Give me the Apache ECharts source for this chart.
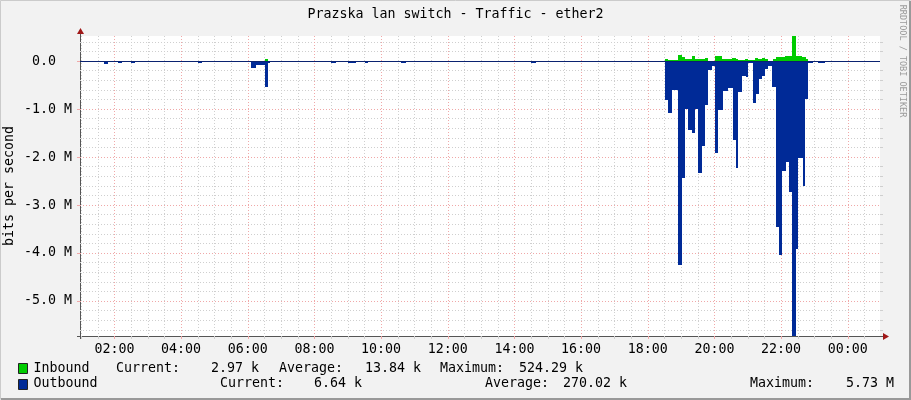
<!DOCTYPE html>
<html><head><meta charset="utf-8">
<script src="https://cdn.jsdelivr.net/npm/echarts@6/dist/echarts.min.js"></script>
<style>html,body{margin:0;padding:0;background:#f2f2f2}#c{width:911px;height:400px}</style>
</head><body><div id="c"></div>
<script>
// ---- chart data ----
const chartTitle = 'Prazska lan switch - Traffic - ether2';
const yAxisTitle = 'bits per second';
const watermark = 'RRDTOOL / TOBI OETIKER';
const xStart = '00:58';
const xEnd = '24:58';
const xLabelTimes = ['02:00','04:00','06:00','08:00','10:00','12:00','14:00','16:00','18:00','20:00','22:00','24:00'];
const yLabelValues = [-5000000,-4000000,-3000000,-2000000,-1000000,0];

// Outbound (bits/s, drawn negative): segment start times and values (last time closes the series)
const outTimes = ['00:58','01:41','01:49','02:07','02:13','02:30','02:37','04:31','04:37',
  '06:06','06:15','06:24','06:31','06:37','06:40','08:30','08:39','09:01','09:14','09:31','09:37',
  '10:36','10:45','14:30','14:39',
  '18:31','18:37','18:43','18:54','19:01','19:07','19:13','19:20','19:25','19:31','19:37','19:43',
  '19:49','19:56','20:01','20:07','20:15','20:21','20:25','20:33','20:39','20:43','20:50','20:56',
  '21:01','21:09','21:15','21:20','21:26','21:31','21:37','21:44','21:50','21:56','22:02','22:08',
  '22:14','22:20','22:26','22:31','22:39','22:43','22:49','22:58','23:07','23:19','24:58'];
const outValues = [0,-60000,0,-35000,0,-35000,0,-35000,0,
  -150000,-70000,-80000,-530000,-35000,0,-35000,0,-35000,0,-35000,0,
  -35000,0,-35000,0,
  -820000,-1080000,-610000,-4260000,-2440000,-990000,-1430000,-1500000,-990000,-2330000,-1760000,-910000,
  -180000,-100000,-1920000,-1010000,-620000,-630000,-570000,-1640000,-2230000,-640000,-300000,-340000,
  -40000,-870000,-690000,-370000,-320000,-160000,-110000,-540000,-3450000,-4040000,-2300000,-2110000,
  -2720000,-5730000,-3910000,-2010000,-2610000,-780000,-35000,-20000,-40000,0,0];

// Inbound (bits/s)
const inTimes = ['00:58','06:31','06:37','18:31','18:37','18:55','19:01','19:07','19:19','19:25','19:43',
  '19:49','20:01','20:13','20:31','20:39','20:43','20:55','21:01','21:13','21:19','21:25','21:31',
  '21:37','21:46','21:50','22:07','22:20','22:26','22:37','22:45','22:49','24:58'];
const inValues = [0,45000,0,50000,30000,135000,90000,50000,100000,50000,70000,
  10000,100000,50000,70000,50000,30000,50000,30000,70000,50000,70000,40000,
  10000,50000,94000,100000,524290,100000,80000,40000,0,0];

const legendNames = ['Inbound','Outbound'];
const legendColors = ['#00cc00','#002a97'];
const statLabels = ['Current:','Average:','Maximum:'];
const inStats = ['2.97 k','13.84 k','524.29 k'];
const outStats = ['6.64 k','270.02 k','5.73 M'];

// ---- helpers ----
function toMin(s){const p=s.split(':');return (+p[0])*60+(+p[1]);}
function segs(ts,vs){const out=[];for(let i=0;i<ts.length-1;i++){ if(vs[i]!==0) out.push([toMin(ts[i]),toMin(ts[i+1]),vs[i]]); }return out;}
const xMin = toMin(xStart), xMax = toMin(xEnd);
const yMin = Math.min(...outValues), yMax = Math.max(...inValues);
const xMajor = xLabelTimes.map(toMin);
const xMinor = []; for(let m=30*Math.ceil(xMin/30); m<=xMax; m+=30){ if(m%120!==0) xMinor.push(m); }
const yMinor = []; for(let k=Math.ceil(yMin/200000); k*200000<=yMax; k++){ if(k%5!==0) yMinor.push(k*200000); }

const FONT = 'DejaVu Sans Mono';
const fmtX = v => { const m=((v%1440)+1440)%1440; const h=Math.floor(m/60); return (h<10?'0':'')+h+':'+(m%60<10?'0':'')+(m%60); };
const fmtY = v => v===0 ? '0.0  ' : (v/1e6).toFixed(1)+' M';

function renderSeg(params, api){
  const a = api.coord([api.value(0), api.value(2)]);
  const b = api.coord([api.value(1), 0]);
  const x0 = Math.round(a[0]), x1 = Math.round(b[0]);
  const y0 = Math.round(Math.min(a[1], b[1])), y1 = Math.round(Math.max(a[1], b[1]));
  return {type:'rect', shape:{x:x0, y:y0, width:Math.max(x1-x0,1), height:Math.max(y1-y0,1)},
          style:{fill:api.visual('color')}};
}
function renderZero(params, api){
  const a = api.coord([api.value(0), 0]);
  const b = api.coord([api.value(1), 0]);
  const y = Math.round(a[1]);
  return {type:'rect', shape:{x:Math.round(a[0]), y:y, width:Math.round(b[0])-Math.round(a[0]), height:1},
          style:{fill:api.visual('color')}};
}

const chart = echarts.init(document.getElementById('c'), null, {renderer:'canvas'});

const MINOR_C = '#cfcfcf', MAJOR_C = '#f0a8a8';
const minorLine = {show:true, lineStyle:{color:MINOR_C, width:1, type:[1,2]}};
const majorLine = {show:true, lineStyle:{color:MAJOR_C, width:1, type:[1,2]}};

const txt = (x,y,t,align,fill,size) => ({type:'text', x:x, y:y, silent:true,
  style:{text:t, font:(size||13.3)+'px "'+FONT+'"', fill:fill||'#000', align:align||'left', verticalAlign:'middle'}});

const graphics = [
  {type:'polyline', silent:true, shape:{points:[[0.5,399.5],[0.5,0.5],[910.5,0.5]]}, style:{stroke:'#cbcbcb', lineWidth:1, fill:null}},
  {type:'polyline', silent:true, shape:{points:[[1,399],[910,399],[910,1]]}, style:{stroke:'#999', lineWidth:2, fill:null}},
  txt(455.5,14.5,chartTitle,'center'),
  {type:'text', x:10, y:186, rotation:Math.PI/2, silent:true,
    style:{text:yAxisTitle, font:'13.3px "'+FONT+'"', fill:'#000', align:'center', verticalAlign:'middle'}},
  {type:'text', x:902, y:61, rotation:-Math.PI/2, silent:true,
    style:{text:watermark, font:'8.5px "'+FONT+'"', fill:'#9a9a9a', align:'center', verticalAlign:'middle'}},
  // axis line extensions and arrows
  {type:'line', silent:true, shape:{x1:77, y1:336.5, x2:884, y2:336.5}, style:{stroke:'#555', lineWidth:1}},
  {type:'line', silent:true, shape:{x1:80.5, y1:339, x2:80.5, y2:32}, style:{stroke:'#555', lineWidth:1}},
  {type:'polygon', silent:true, shape:{points:[[883,333],[889,336.5],[883,340]]}, style:{fill:'#a01818'}},
  {type:'polygon', silent:true, shape:{points:[[77,34],[80.5,28],[84,34]]}, style:{fill:'#a01818'}},
  // legend
  {type:'rect', silent:true, shape:{x:18.5,y:363.5,width:9,height:10}, style:{fill:legendColors[0], stroke:'#222', lineWidth:1}},
  {type:'rect', silent:true, shape:{x:18.5,y:379.5,width:9,height:10}, style:{fill:legendColors[1], stroke:'#222', lineWidth:1}},
  txt(33.5,368.5,legendNames[0]), txt(116,368.5,statLabels[0]), txt(259,368.5,inStats[0],'right'),
  txt(279,368.5,statLabels[1]), txt(421,368.5,inStats[1],'right'),
  txt(440,368.5,statLabels[2]), txt(583,368.5,inStats[2],'right'),
  txt(33.5,384,legendNames[1]), txt(220,384,statLabels[0]), txt(362,384,outStats[0],'right'),
  txt(485,384,statLabels[1]), txt(627,384,outStats[1],'right'),
  txt(750,384,statLabels[2]), txt(894,384,outStats[2],'right')
];

chart.setOption({
  backgroundColor:'#f2f2f2',
  animation:false,
  grid:{left:80, right:31, top:36, bottom:64, show:true, backgroundColor:'#ffffff', borderWidth:0},
  xAxis:[
    {type:'value', min:xMin, max:xMax, position:'bottom',
     axisLine:{show:false, onZero:false},
     axisTick:{show:true, length:3, customValues:xMajor, lineStyle:{color:MAJOR_C}},
     axisLabel:{customValues:xMajor, formatter:fmtX, color:'#000', fontFamily:FONT, fontSize:13.3, margin:7},
     splitLine:majorLine},
    {type:'value', min:xMin, max:xMax, position:'bottom',
     axisLine:{show:false, onZero:false},
     axisTick:{show:true, length:3, customValues:xMinor, lineStyle:{color:MINOR_C}},
     axisLabel:{show:false, customValues:xMinor},
     splitLine:minorLine}
  ],
  yAxis:[
    {type:'value', min:yMin, max:yMax,
     axisLine:{show:false, onZero:false},
     axisTick:{show:true, length:3, customValues:yLabelValues, lineStyle:{color:MAJOR_C}},
     axisLabel:{customValues:yLabelValues, formatter:fmtY, color:'#000', fontFamily:FONT, fontSize:13.3, margin:8},
     splitLine:majorLine},
    {type:'value', min:yMin, max:yMax,
     axisLine:{show:false, onZero:false},
     axisTick:{show:true, length:3, customValues:yMinor, lineStyle:{color:MINOR_C}},
     axisLabel:{show:false, customValues:yMinor},
     splitLine:minorLine}
  ],
  series:[
    {name:legendNames[1], type:'custom', renderItem:renderSeg, data:segs(outTimes,outValues),
     encode:{x:[0,1], y:2}, itemStyle:{color:legendColors[1]}, clip:true, silent:true},
    {name:legendNames[0], type:'custom', renderItem:renderSeg, data:segs(inTimes,inValues),
     encode:{x:[0,1], y:2}, itemStyle:{color:legendColors[0]}, clip:true, silent:true},
    {name:'zero', type:'custom', renderItem:renderZero, data:[[xMin,xMax,0]],
     encode:{x:[0,1], y:2}, itemStyle:{color:'#0a2270'}, clip:true, silent:true}
  ],
  graphic:graphics
});
</script></body></html>
